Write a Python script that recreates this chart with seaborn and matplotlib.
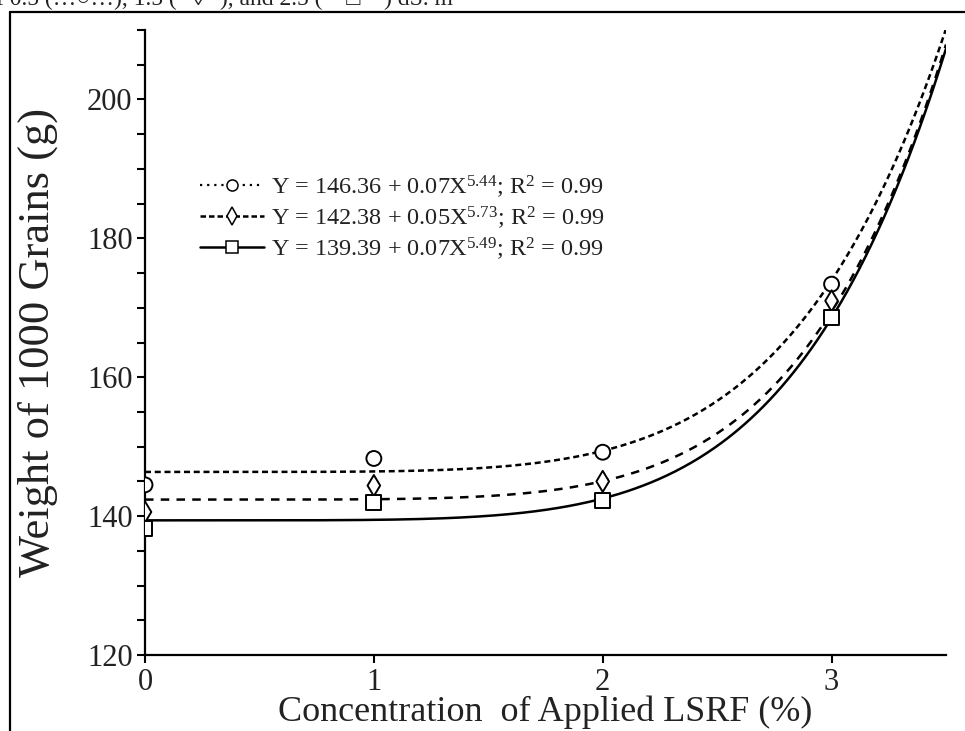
import numpy as np
import pandas as pd
import matplotlib
matplotlib.use("Agg")
import matplotlib.pyplot as plt
from matplotlib.lines import Line2D
from matplotlib.ticker import MultipleLocator
import seaborn as sns

# ---------------- data ----------------
concentration = [0, 1, 2, 3]                      # % LSRF
salinity = ["0.5", "1.5", "2.5"]                  # dS m-1
weight_s05 = [144.5, 148.3, 149.2, 173.4]         # circles
weight_s15 = [140.6, 144.4, 145.0, 171.0]         # diamonds
weight_s25 = [138.2, 142.0, 142.3, 168.6]         # squares
fit_a = [146.36, 142.38, 139.39]
fit_b = [0.07, 0.05, 0.07]
fit_c = [5.44, 5.73, 5.49]
fit_r2 = [0.99, 0.99, 0.99]
x_ticks = [0, 1, 2, 3]
y_ticks = [120, 140, 160, 180, 200]

# ---------------- style ----------------
sns.set_theme(style="ticks")
plt.rcParams["font.family"] = ["Liberation Serif", "DejaVu Serif", "DejaVu Sans"]
plt.rcParams["mathtext.fontset"] = "custom"
plt.rcParams["mathtext.rm"] = "Liberation Serif"
plt.rcParams["mathtext.it"] = "Liberation Serif:italic"
plt.rcParams["mathtext.bf"] = "Liberation Serif:bold"

fig = plt.figure(figsize=(9.65, 7.31), dpi=100)
ax = fig.add_axes([145 / 965, 1 - 655 / 731, (946 - 145) / 965, (655 - 30) / 731])

points = pd.DataFrame({
    "x": concentration * 3,
    "y": weight_s05 + weight_s15 + weight_s25,
    "sal": sum([[s] * len(concentration) for s in salinity], []),
})

xs = np.linspace(0, 3.5, 400)
curves = pd.DataFrame({
    "x": np.tile(xs, 3),
    "y": np.concatenate([a + b * xs ** c for a, b, c in zip(fit_a, fit_b, fit_c)]),
    "sal": np.repeat(salinity, len(xs)),
})

dash_map = {"0.5": (2.4, 1.5), "1.5": (3.4, 2.9), "2.5": ""}
marker_map = {"0.5": "o", "1.5": "d", "2.5": "s"}
black = {s: "black" for s in salinity}

sns.lineplot(data=curves, x="x", y="y", hue="sal", style="sal", palette=black,
             dashes=dash_map, linewidth=1.8, legend=False, ax=ax, sort=False)
sns.scatterplot(data=points, x="x", y="y", hue="sal", style="sal", palette=black,
                markers=marker_map, s=115, facecolor="white", linewidth=1.4,
                edgecolor="black", legend=False, ax=ax, zorder=5)
for coll in ax.collections:
    coll.set_facecolor("white")
    coll.set_edgecolor("black")

ax.set_xlim(0, 3.5)
ax.set_ylim(120, 210)
ax.set_xticks(x_ticks)
ax.set_yticks(y_ticks)
ax.yaxis.set_minor_locator(MultipleLocator(5))
ax.tick_params(axis="both", which="both", direction="out", length=6, width=1.5,
               color="black", labelsize=22, labelcolor="#222222")
ax.tick_params(axis="y", pad=3)
ax.tick_params(axis="x", pad=3)
for side in ["top", "right"]:
    ax.spines[side].set_visible(False)
for side in ["left", "bottom"]:
    ax.spines[side].set_linewidth(1.6)
    ax.spines[side].set_color("black")

ax.set_xlabel("Concentration  of Applied LSRF (%)", fontsize=26, color="#222222")
ax.xaxis.label.set_va("baseline")
ax.xaxis.set_label_coords(0.5, (655 - 721) / 625)
ax.set_ylabel("Weight of 1000 Grains (g)", fontsize=32, color="#222222")
ax.yaxis.set_label_coords((58 - 145) / 801, 0.5)

# legend
labels = [f"Y = {a:.2f} + {b:.2f}X$^{{{c:.2f}}}$; R$^{{2}}$ = {r:.2f}"
          for a, b, c, r in zip(fit_a, fit_b, fit_c, fit_r2)]
handles = [
    Line2D([], [], color="black", linestyle=(0, (1, 2.2)), linewidth=1.6,
           marker="o", markersize=8, markerfacecolor="white", markeredgewidth=1.1),
    Line2D([], [], color="black", linestyle=(0, (2.2, 1.2)), linewidth=1.8,
           marker="d", markersize=9, markerfacecolor="white", markeredgewidth=1.1),
    Line2D([], [], color="black", linestyle="-", linewidth=1.8,
           marker="s", markersize=8, markerfacecolor="white", markeredgewidth=1.1),
]
leg = ax.legend(handles, labels, loc="upper left", bbox_to_anchor=(0.057, 0.787),
                frameon=False, fontsize=17.5, handlelength=2.6, handletextpad=0.3,
                labelspacing=0.18, borderaxespad=0)
for t in leg.get_texts():
    t.set_color("#222222")

# figure frame (cropped screenshot border) and cut-off caption
fig.add_artist(Line2D([10 / 965, 1.0], [1 - 12 / 731, 1 - 12 / 731],
                      color="black", linewidth=1.6, transform=fig.transFigure))
fig.add_artist(Line2D([10 / 965, 10 / 965], [1 - 12 / 731, 0.0],
                      color="black", linewidth=1.6, transform=fig.transFigure))
fig.text(-0.004, 1 - 5 / 731, "f 0.5 (…○…), 1.5 (--◊--), and 2.5 (—□—) dS. m",
         fontsize=17, va="baseline", ha="left", color="#222222",
         family=["Liberation Serif", "DejaVu Sans"])

fig.savefig("out.png", dpi=100)
